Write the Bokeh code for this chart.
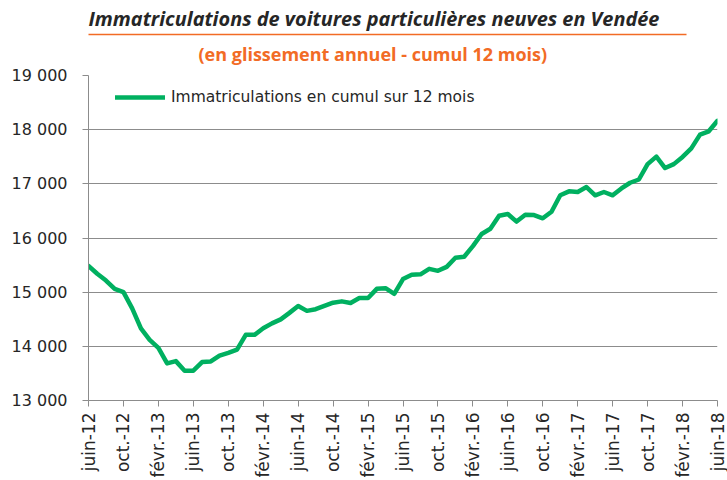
from bokeh.plotting import figure
from bokeh.models import (Range1d, FixedTicker, Legend, LegendItem, Title, LinearAxis,
                          ColumnDataSource)
from bokeh.embed import file_html
from bokeh.resources import INLINE
from math import pi

# ---- data ----
values = [15485, 15340, 15215, 15060, 15000, 14700, 14330, 14120, 13970, 13685,
          13727, 13550, 13550, 13709, 13721, 13830, 13880, 13940, 14212, 14212,
          14333, 14424, 14497, 14618, 14745, 14655, 14685, 14745, 14806, 14830,
          14800, 14891, 14891, 15061, 15073, 14970, 15242, 15321, 15330, 15430,
          15394, 15467, 15636, 15655, 15849, 16073, 16170, 16412, 16442, 16303,
          16430, 16424, 16364, 16485, 16788, 16861, 16849, 16940, 16788, 16849,
          16788, 16915, 17020, 17080, 17364, 17503, 17291, 17364, 17497, 17655,
          17909, 17970, 18164]
months = list(range(len(values)))
x_tick_labels = ["juin-12", "oct.-12", "févr.-13", "juin-13", "oct.-13", "févr.-14",
                 "juin-14", "oct.-14", "févr.-15", "juin-15", "oct.-15", "févr.-16",
                 "juin-16", "oct.-16", "févr.-17", "juin-17", "oct.-17", "févr.-18",
                 "juin-18"]
y_ticks = [13000, 14000, 15000, 16000, 17000, 18000, 19000]
y_tick_labels = ["13 000", "14 000", "15 000", "16 000", "17 000", "18 000", "19 000"]
series_name = "Immatriculations en cumul sur 12 mois"
title_text = "Immatriculations de voitures particulières neuves en Vendée"
subtitle_text = "(en glissement annuel - cumul 12 mois)"

GREEN = "#00B060"
ORANGE = "#F26B25"
GRID = "#8C8C8C"
TEXT = "#262626"

p = figure(width=727, height=480, output_backend="svg", toolbar_location=None,
           title=None,
           x_range=Range1d(0, 72), y_range=Range1d(13000, 19000),
           min_border_left=88, min_border_right=10, min_border_top=0,
           min_border_bottom=75)
p.outline_line_color = None
p.background_fill_color = "white"
p.border_fill_color = "white"

src = ColumnDataSource(dict(x=months, y=values))
r = p.line("x", "y", source=src, line_color=GREEN, line_width=4.5,
           line_join="round", line_cap="round")

# axes
xt = list(range(0, 73, 4))
p.xaxis.ticker = FixedTicker(ticks=xt)
p.xaxis.major_label_overrides = {t: lab for t, lab in zip(xt, x_tick_labels)}
p.xaxis.major_label_orientation = pi / 2
p.xaxis.minor_tick_line_color = None
p.xaxis.major_tick_in = 0
p.xaxis.major_tick_out = 6
p.xaxis.axis_line_color = GRID
p.xaxis.major_tick_line_color = GRID
p.xaxis.major_label_text_font = "DejaVu Sans"
p.xaxis.major_label_text_font_size = "17px"
p.xaxis.major_label_text_color = TEXT
p.xaxis.major_label_standoff = 6

p.yaxis.ticker = FixedTicker(ticks=y_ticks)
p.yaxis.major_label_overrides = {t: lab for t, lab in zip(y_ticks, y_tick_labels)}
p.yaxis.minor_tick_line_color = None
p.yaxis.major_tick_in = 0
p.yaxis.major_tick_out = 6
p.yaxis.axis_line_color = GRID
p.yaxis.major_tick_line_color = GRID
p.yaxis.major_label_text_font = "DejaVu Sans"
p.yaxis.major_label_text_font_size = "16px"
p.yaxis.major_label_text_color = TEXT
p.yaxis.major_label_standoff = 15

p.xgrid.grid_line_color = None
p.ygrid.ticker = FixedTicker(ticks=[14000, 15000, 16000, 17000, 18000])
p.ygrid.grid_line_color = GRID
p.ygrid.grid_line_width = 1

# legend
legend = Legend(items=[LegendItem(label=series_name, renderers=[r])],
                location=(27, 292), glyph_width=50, glyph_height=22, label_height=22,
                label_standoff=6, padding=0, margin=0,
                border_line_alpha=0, background_fill_alpha=0,
                label_text_font="DejaVu Sans", label_text_font_size="15.5px",
                label_text_color=TEXT)
p.add_layout(legend)

# titles: subtitle nearest the frame, then the orange rule, then the main title
p.add_layout(Title(text=subtitle_text, align="left", offset=110, standoff=15,
                   vertical_align="top",
                   text_font="Open Sans", text_font_style="bold",
                   text_font_size="18px", text_color=ORANGE), "above")

p.extra_x_ranges = {"rule": Range1d(0, 629)}
rule = LinearAxis(x_range_name="rule", bounds=(-30, 598), ticker=FixedTicker(ticks=[]),
                  axis_line_color=ORANGE, axis_line_width=1.5,
                  major_tick_line_color=None, minor_tick_line_color=None,
                  major_label_text_alpha=0, major_label_standoff=0,
                  major_tick_out=0, major_tick_in=0)
p.add_layout(rule, "above")

p.add_layout(Title(text=title_text, align="left", offset=0, standoff=5,
                   text_font="Open Sans", text_font_style="bold italic",
                   text_font_size="19.9px", text_color=TEXT), "above")

open("out.html", "w").write(file_html(p, INLINE))
